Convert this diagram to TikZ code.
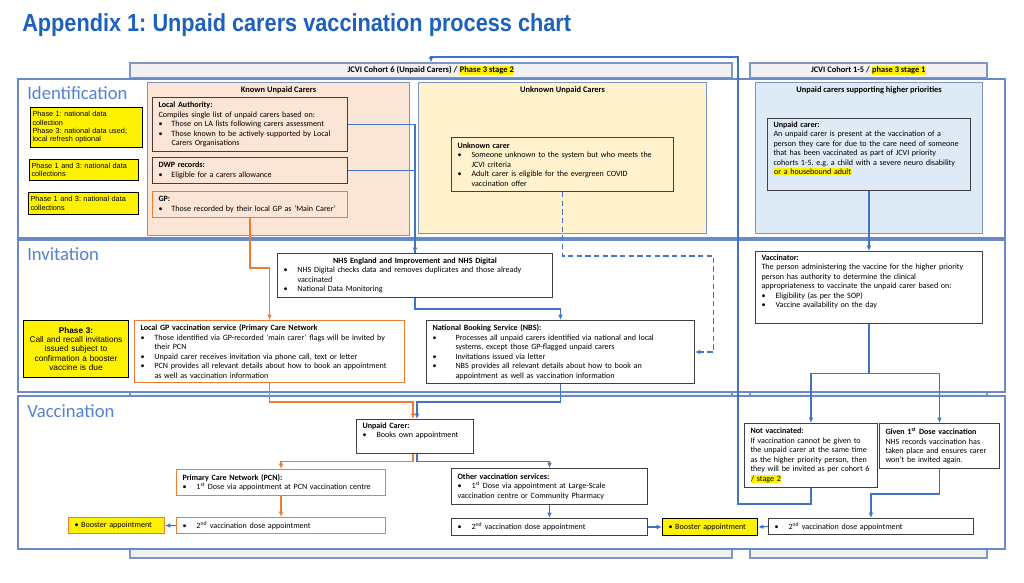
\documentclass[tikz,border=0pt]{standalone}
\usepackage{fontspec}
\setmainfont{Carlito}
\newfontfamily\arialf{Liberation Sans}
\usepackage{xcolor}
\usepackage{graphicx}
\usepackage{tikz}
\usetikzlibrary{arrows.meta,positioning}

\newdimen\pxu \pxu=0.75pt
\definecolor{titleblue}{RGB}{30,96,190}
\definecolor{lanecol}{RGB}{105,137,200}
\definecolor{lanetxt}{RGB}{84,130,212}
\definecolor{colfill}{RGB}{241,241,243}
\definecolor{panelline}{RGB}{125,150,195}
\definecolor{knownfill}{RGB}{251,229,214}
\definecolor{unknownfill}{RGB}{255,242,204}
\definecolor{higherfill}{RGB}{222,235,247}
\definecolor{boxline}{RGB}{64,64,64}
\definecolor{orangeline}{RGB}{237,125,49}
\definecolor{blueline}{RGB}{68,114,196}

\newcommand{\bitem}[1][12]{\par\hangindent=#1\pxu\hangafter=1\noindent\makebox[#1\pxu][l]{\textbullet}\ignorespaces}
\newcommand{\hlt}[1]{{\setlength{\fboxsep}{0.4pt}\colorbox{yellow}{#1}}}
\frenchspacing
\hyphenpenalty=10000
\exhyphenpenalty=10000

\begin{document}
\begin{tikzpicture}[x=0.75pt, y=-0.75pt,
    lane/.style={draw=lanecol, line width=1pt, fill=white},
    column/.style={draw=panelline, line width=0.8pt, fill=colfill},
    lanelabel/.style={anchor=base west, inner sep=0pt, text=lanetxt, font=\fontsize{14}{16}\selectfont},
    panel/.style={rectangle, draw=panelline, line width=0.8pt, fill=#1, anchor=north west, inner sep=0pt},
    ptitle/.style={inner sep=0pt, font=\bfseries\fontsize{6.3}{7.2}\selectfont},
    box/.style={rectangle, draw=#1, line width=0.75pt, fill=white, anchor=north west, align=left,
        inner xsep=6\pxu, inner ysep=3\pxu, font=\fontsize{6.05}{7.1}\selectfont},
    phase/.style={rectangle, draw=black, line width=0.75pt, fill=yellow, anchor=north west, align=left,
        inner xsep=2\pxu, inner ysep=2\pxu, font=\arialf\fontsize{5.5}{6.2}\selectfont},
    bline/.style={draw=blueline, line width=0.9pt},
    barrow/.style={bline, -{Latex[length=4pt,width=3.5pt]}},
    oarrow/.style={draw=orangeline, line width=1.1pt, -{Latex[length=4pt,width=3.5pt]}},
]
\useasboundingbox (0,0) rectangle (1024,582);
\fill[white] (0,0) rectangle (1024,582);

% title
\node[anchor=base west, inner sep=0pt, text=titleblue, font=\arialf\bfseries\fontsize{18.5}{20}\selectfont] (title) at (22,31)
    {\scalebox{0.88}[1]{Appendix 1: Unpaid carers vaccination process chart}};

% columns
\draw[column] (130,63) rectangle (732,558);
\draw[column] (750,63) rectangle (987,558);
\node[column, minimum width=602\pxu, minimum height=15\pxu, inner sep=0pt, font=\bfseries\fontsize{6.4}{7}\selectfont] (hdrsix) at (431,70.5)
    {JCVI Cohort 6 (Unpaid Carers) / \hlt{Phase 3 stage 2}};
\node[column, minimum width=237\pxu, minimum height=15\pxu, inner sep=0pt, font=\bfseries\fontsize{6.3}{7}\selectfont] (hdrfive) at (868.5,70.5)
    {JCVI Cohort 1-5 / \hlt{phase 3 stage 1}};

% lanes
\draw[lane] (18,79) rectangle (1005,238);
\draw[lane] (18,240) rectangle (1005,392);
\draw[lane] (18,396) rectangle (1005,549);
\node[lanelabel] (lblid) at (27,99) {Identification};
\node[lanelabel] (lblinv) at (27,260) {Invitation};
\node[lanelabel] (lblvac) at (27,417) {Vaccination};

% identification
\node[phase, text width=108\pxu, minimum height=40\pxu] (ph1) at (30,107)
    {Phase 1: national data\\collection\\Phase 3: national data used;\\local refresh optional};
\node[phase, text width=105\pxu, minimum height=21\pxu] (ph2) at (29,159) {Phase 1 and 3: national data\\collections};
\node[phase, text width=106\pxu, minimum height=22\pxu] (ph3) at (28,192) {Phase 1 and 3: national data\\collections};

\node[panel=knownfill, minimum width=262\pxu, minimum height=153\pxu] (known) at (147,82) {};
\node[ptitle, below=4\pxu of known.north] (knowntitle) {Known Unpaid Carers};
\node[panel=unknownfill, minimum width=288\pxu, minimum height=151\pxu] (unknown) at (418,82) {};
\node[ptitle, below=4\pxu of unknown.north] (unknowntitle) {Unknown Unpaid Carers};
\node[panel=higherfill, minimum width=227\pxu, minimum height=151\pxu] (higher) at (755,82) {};
\node[ptitle, below=4\pxu of higher.north] (highertitle) {Unpaid carers supporting higher priorities};

\node[box=boxline, fill=knownfill, text width=183\pxu, minimum height=54\pxu] (la) at (152,97)
    {\textbf{Local Authority:}\par Compiles single list of unpaid carers based on:
     \bitem[13] Those on LA lists following carers assessment
     \bitem[13] Those known to be actively supported by Local\newline Carers Organisations\par};
\node[box=boxline, fill=knownfill, text width=183\pxu, minimum height=26\pxu] (dwp) at (152,157)
    {\textbf{DWP records:}\bitem[13] Eligible for a carers allowance\par};
\node[box=orangeline, fill=knownfill, text width=183\pxu, minimum height=26\pxu] (gp) at (152,191)
    {\textbf{GP:}\bitem[13] Those recorded by their local GP as ‘Main Carer’\par};
\node[box=boxline, fill=unknownfill, text width=210\pxu, minimum height=54\pxu] (unk) at (451,137)
    {\textbf{Unknown carer}
     \bitem[14] Someone unknown to the system but who meets the\newline JCVI criteria
     \bitem[14] Adult carer is eligible for the evergreen COVID\newline vaccination offer\par};
\node[box=boxline, fill=higherfill, text width=191\pxu, text depth=45pt] (upc) at (767,118)
    {\textbf{Unpaid carer:}\par An unpaid carer is present at the vaccination of a\newline
     person they care for due to the care need of someone\newline
     that has been vaccinated as part of JCVI priority\newline
     cohorts 1-5. e.g. a child with a severe neuro disability\newline
     \hlt{or a housebound adult}\par};

% invitation
\node[box=boxline, text width=263\pxu, minimum height=44\pxu] (nhse) at (277,253)
    {\makebox[\linewidth]{\textbf{NHS England and Improvement and NHS Digital}}
     \bitem[14] NHS Digital checks data and removes duplicates and those already\newline vaccinated
     \bitem[14] National Data Monitoring\par};
\node[phase, align=center, text width=101\pxu, minimum height=57\pxu, font=\arialf\fontsize{6.2}{7}\selectfont] (ph4) at (23,320)
    {\textbf{Phase 3:}\\Call and recall invitations\\issued subject to\\confirmation a booster\\vaccine is due};
\node[box=orangeline, text width=258\pxu, minimum height=62\pxu] (lgp) at (134,320)
    {\textbf{Local GP vaccination service (Primary Care Network}
     \bitem[14] Those identified via GP-recorded ‘main carer’ flags will be invited by\newline their PCN
     \bitem[14] Unpaid carer receives invitation via phone call, text or letter
     \bitem[14] PCN provides all relevant details about how to book an appointment\newline as well as vaccination information\par};
\node[box=boxline, text width=256\pxu, minimum height=63\pxu] (nbs) at (426,320)
    {\textbf{National Booking Service (NBS):}
     \bitem[23] Processes all unpaid carers identified via national and local\newline systems, except those GP-flagged unpaid carers
     \bitem[23] Invitations issued via letter
     \bitem[23] NBS provides all relevant details about how to book an\newline appointment as well as vaccination information\par};
\node[box=boxline, text width=215\pxu, text depth=45pt] (vac) at (755,251)
    {\textbf{Vaccinator:}\par The person administering the vaccine for the higher priority\newline
     person has authority to determine the clinical\newline
     appropriateness to vaccinate the unpaid carer based on:
     \bitem[14] Eligibility (as per the SOP)
     \bitem[14] Vaccine availability on the day\par};

% vaccination
\node[box=boxline, text width=105\pxu, text depth=17pt] (ucar) at (356,419)
    {\textbf{Unpaid Carer:}\bitem[14] Books own appointment\par};
\node[box=orangeline, text width=197\pxu, minimum height=26\pxu] (pcn) at (176,469)
    {\textbf{Primary Care Network (PCN):}\bitem[14] 1\textsuperscript{st} Dose via appointment at PCN vaccination centre\par};
\node[box=orangeline, text width=197\pxu, minimum height=16\pxu] (pcntwo) at (176,517)
    {\makebox[14\pxu][l]{\textbullet}2\textsuperscript{nd} vaccination dose appointment};
\node[box=orangeline, fill=yellow, text width=84\pxu, minimum height=16\pxu] (boostone) at (68,517)
    {\textbullet\ Booster\ appointment};
\node[box=boxline, text width=184\pxu, minimum height=36\pxu] (oth) at (451,468)
    {\textbf{Other vaccination services:}\par
     \makebox[14\pxu][l]{\textbullet}1\textsuperscript{st} Dose via appointment at Large-Scale\newline vaccination centre or Community Pharmacy};
\node[box=boxline, text width=184\pxu, minimum height=17\pxu] (othtwo) at (451,518)
    {\makebox[14\pxu][l]{\textbullet}2\textsuperscript{nd} vaccination dose appointment};
\node[box=black, fill=yellow, text width=83\pxu, minimum height=17\pxu] (boosttwo) at (662,518)
    {\textbullet\ Booster\ appointment};
\node[box=boxline, text width=121\pxu, minimum height=64\pxu] (notv) at (744,423)
    {\textbf{Not vaccinated:}\par If vaccination cannot be given to\newline
     the unpaid carer at the same time\newline
     as the higher priority person, then\newline
     they will be invited as per cohort 6\newline
     \hlt{/ stage 2}};
\node[box=boxline, text width=108\pxu, minimum height=45\pxu] (giv) at (879,423)
    {\textbf{Given 1\textsuperscript{st} Dose vaccination}\par NHS records vaccination has\newline
     taken place and ensures carer\newline won’t be invited again.};
\node[box=boxline, text width=193\pxu, minimum height=16\pxu] (givtwo) at (768,518)
    {\makebox[14\pxu][l]{\textbullet}2\textsuperscript{nd} vaccination dose appointment};
\coordinate (retcorner) at (738,57);

% connectors
\draw[barrow] (la.east) -| (nhse.north);
\draw[bline] (dwp.east) -| (nhse.north);
\draw[oarrow] (gp.south) -- ++(0,50) -| (lgp.north);
\draw[bline, dash pattern=on 4pt off 2.5pt, -{Latex[length=4pt,width=3.5pt]}] (unk.south) -- ++(0,64) -- ++(151,0) |- (nbs.east);
\draw[barrow] (upc.south) -- (vac.north);
\draw[barrow] (nhse.south) -- ++(0,11) -| (nbs.north);
\draw[oarrow] (lgp.south) -- ++(0,19) -| ([xshift=-1.5pt]ucar.north);
\draw[barrow] (nbs.south) -- ++(0,18) -| ([xshift=1.5pt]ucar.north);
\draw[oarrow] ([xshift=-1.5pt]ucar.south) -- ++(0,7) -| (pcn.north);
\draw[barrow] ([xshift=1.5pt]ucar.south) -- ++(0,7) -| (oth.north);
\draw[oarrow] (pcn.south) -- (pcntwo.north);
\draw[barrow] (pcntwo.west) -- (boostone.east);
\draw[barrow] (oth.south) -- (othtwo.north);
\draw[barrow] (othtwo.east) -- (boosttwo.west);
\draw[barrow] (givtwo.west) -- (boosttwo.east);
\draw[barrow] (vac.south) -- ++(0,50) -| (notv.north);
\draw[barrow] (vac.south) -- ++(0,50) -| (giv.north);
\draw[barrow] (giv.south) -- ++(0,25) -| (givtwo.north);
\draw[barrow] (notv.south) -- ++(0,16) -| (retcorner) -| (hdrsix.north);

\end{tikzpicture}
\end{document}
